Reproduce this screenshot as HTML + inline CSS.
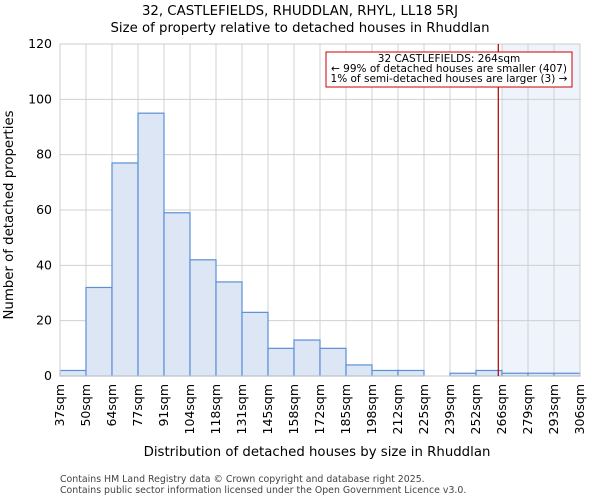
<!DOCTYPE html>
<html><head><meta charset="utf-8"><style>
body{margin:0;background:#fff;font-family:"DejaVu Sans","Liberation Sans",sans-serif;}
</style></head><body>
<svg width="600" height="500" xmlns="http://www.w3.org/2000/svg" font-family="DejaVu Sans, Liberation Sans, sans-serif">
<text x="300" y="15" text-anchor="middle" font-size="13.3">32, CASTLEFIELDS, RHUDDLAN, RHYL, LL18 5RJ</text>
<text x="300" y="32" text-anchor="middle" font-size="13.3">Size of property relative to detached houses in Rhuddlan</text>
<g id="plot"></g>
<text x="317" y="456" text-anchor="middle" font-size="13.3">Distribution of detached houses by size in Rhuddlan</text>
<text transform="translate(13,215) rotate(-90)" text-anchor="middle" font-size="13.3">Number of detached properties</text>
<text x="60" y="482" font-size="9.4" fill="#444">Contains HM Land Registry data © Crown copyright and database right 2025.</text>
<text x="60" y="493" font-size="9.4" fill="#444">Contains public sector information licensed under the Open Government Licence v3.0.</text>
</svg>
<script>
const binLabels=["37sqm","50sqm","64sqm","77sqm","91sqm","104sqm","118sqm","131sqm","145sqm","158sqm","172sqm","185sqm","198sqm","212sqm","225sqm","239sqm","252sqm","266sqm","279sqm","293sqm","306sqm"];
const binEdges=[37,50,64,77,91,104,118,131,145,158,172,185,198,212,225,239,252,266,279,293,306];
const counts=[2,32,77,95,59,42,34,23,10,13,10,4,2,2,0,1,2,1,1,1];
const yTicks=[0,20,40,60,80,100,120];
const subjectSize=264;
const L=60,R=580,T=44,B=376,yMax=120;
const NS="http://www.w3.org/2000/svg";
const g=document.getElementById('plot');
const n=counts.length,bw=(R-L)/n;
const xi=i=>L+i*bw;
const y=v=>B-(v/yMax)*(B-T);
function sizeX(s){for(let i=0;i<binEdges.length-1;i++){if(s<=binEdges[i+1])return xi(i)+bw*(s-binEdges[i])/(binEdges[i+1]-binEdges[i]);}return R;}
function mk(t,a){const e=document.createElementNS(NS,t);for(const k in a)e.setAttribute(k,a[k]);g.appendChild(e);return e;}
let hi=binEdges.findIndex(e=>e>=subjectSize);
let sh=mk('rect',{x:xi(hi),y:T,width:R-xi(hi),height:B-T,fill:'#eef3fc'});


yTicks.forEach(t=>{let l=mk('line',{x1:L,x2:R,y1:y(t),y2:y(t),stroke:'#d0d0d0'});


let tx=mk('text',{x:L-8,y:y(t)+4,'text-anchor':'end','font-size':12.5});tx.textContent=t;

});
binLabels.forEach((lb,i)=>{let l=mk('line',{x1:xi(i),x2:xi(i),y1:T,y2:B,stroke:'#d0d0d0'});


let tx=mk('text',{transform:`translate(${xi(i)+4},${B+8}) rotate(-90)`,'text-anchor':'end','font-size':12.5});tx.textContent=lb;

});
counts.forEach((c,i)=>{if(c<=0)return;let r=mk('rect',{x:xi(i),y:y(c),width:bw,height:B-y(c),fill:'#dce6f4',stroke:'#5b8fd6','stroke-width':1.2});

});
let ax=mk('rect',{x:L,y:T,width:R-L,height:B-T,fill:'none',stroke:'#cccccc'});


let sx=sizeX(subjectSize);
let rl=mk('line',{x1:sx,x2:sx,y1:T,y2:B,stroke:'#aa0000','stroke-width':1.2});


let bx=mk('rect',{x:326,y:52,width:246,height:35,fill:'#fff',stroke:'#cc0000'});


["32 CASTLEFIELDS: 264sqm","← 99% of detached houses are smaller (407)","1% of semi-detached houses are larger (3) →"].forEach((s,i)=>{
let t=mk('text',{x:449,y:62+i*10,'text-anchor':'middle','font-size':10.5});t.textContent=s;

});
</script>
</body></html>
